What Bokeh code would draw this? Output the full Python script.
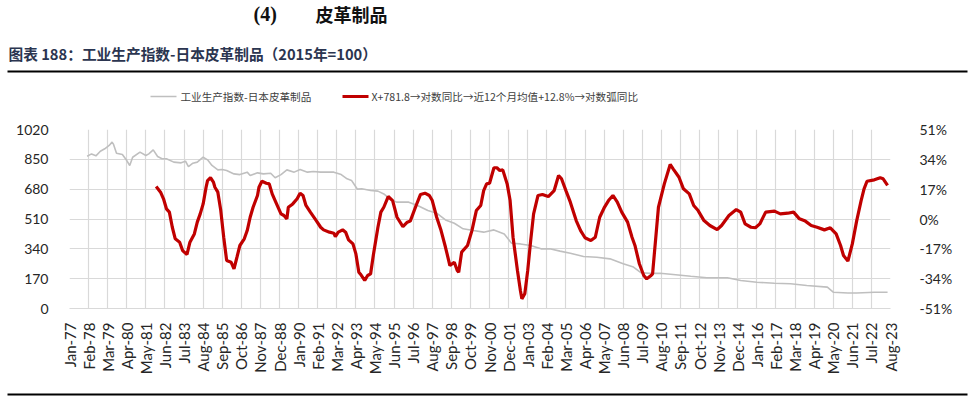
import math
from bokeh.plotting import figure
from bokeh.models import (Range1d, LinearAxis, FixedTicker, PrintfTickFormatter, ColumnDataSource)
from bokeh.core.properties import value
from bokeh.embed import file_html
from bokeh.resources import INLINE

# ---------------- data ----------------
x_labels = ["Jan-77", "Feb-78", "Mar-79", "Apr-80", "May-81", "Jun-82", "Jul-83", "Aug-84",
            "Sep-85", "Oct-86", "Nov-87", "Dec-88", "Jan-90", "Feb-91", "Mar-92", "Apr-93",
            "May-94", "Jun-95", "Jul-96", "Aug-97", "Sep-98", "Oct-99", "Nov-00", "Dec-01",
            "Jan-03", "Feb-04", "Mar-05", "Apr-06", "May-07", "Jun-08", "Jul-09", "Aug-10",
            "Sep-11", "Oct-12", "Nov-13", "Dec-14", "Jan-16", "Feb-17", "Mar-18", "Apr-19",
            "May-20", "Jun-21", "Jul-22", "Aug-23"]

left_ticks = [0, 170, 340, 510, 680, 850, 1020]
right_ticks = [-51, -34, -17, 0, 17, 34, 51]

# 工业生产指数-日本皮革制品 (left axis)
gray_dates = ["1978-01", "1978-04", "1978-07", "1978-10", "1979-01", "1979-04", "1979-06", "1979-07",
              "1979-09", "1980-01", "1980-04", "1980-06", "1980-08", "1981-01", "1981-05", "1981-07",
              "1981-10", "1982-01", "1982-04", "1982-07", "1982-12", "1983-05", "1983-08", "1983-10",
              "1984-01", "1984-04", "1984-08", "1984-11", "1985-02", "1985-06", "1985-09", "1985-12",
              "1986-05", "1986-09", "1987-02", "1987-04", "1987-09", "1988-01", "1988-06", "1988-09",
              "1989-01", "1989-05", "1989-10", "1990-02", "1990-07", "1990-11", "1991-04", "1991-08",
              "1992-01", "1992-06", "1992-10", "1993-01", "1993-03", "1993-05", "1993-08", "1994-02",
              "1994-07", "1994-11", "1995-04", "1995-08", "1996-04", "1996-10", "1997-05", "1997-11",
              "1998-05", "1998-11", "1999-05", "1999-12", "2000-07", "2001-02", "2001-09", "2002-02",
              "2002-08", "2003-03", "2003-10", "2004-04", "2004-11", "2005-06", "2006-03", "2006-12",
              "2007-09", "2008-06", "2009-01", "2009-06", "2010-01", "2010-07", "2011-04", "2012-04",
              "2013-03", "2014-05", "2015-02", "2016-01", "2017-01", "2017-12", "2018-11", "2020-01",
              "2020-05", "2021-03", "2021-09", "2022-09", "2023-06"]
gray_values = [868, 881, 870, 896, 910, 929, 948, 935,
               885, 877, 843, 815, 862, 891, 872, 881,
               904, 866, 853, 853, 834, 830, 839, 809,
               828, 834, 862, 847, 815, 790, 792, 786,
               767, 763, 777, 758, 773, 767, 771, 745,
               763, 790, 777, 792, 777, 781, 777, 777,
               777, 763, 739, 730, 705, 680, 682, 672,
               669, 653, 619, 606, 606, 587, 558, 543,
               505, 486, 454, 444, 435, 448, 425, 372,
               368, 359, 340, 340, 327, 315, 296, 292,
               283, 255, 236, 204, 200, 201, 194, 184,
               175, 175, 160, 150, 144, 141, 131, 122,
               93, 88, 88, 93, 93]

# X+781.8→对数同比→近12个月均值+12.8%→对数弧同比 (right axis, %)
red_dates = ["1981-12", "1982-03", "1982-05", "1982-07", "1982-09", "1982-11", "1983-01", "1983-04",
             "1983-06", "1983-09", "1983-11", "1984-02", "1984-04", "1984-06", "1984-08", "1984-10",
             "1984-11", "1985-01", "1985-03", "1985-04", "1985-06", "1985-08", "1985-10", "1985-12",
             "1986-03", "1986-05", "1986-07", "1986-09", "1986-12", "1987-02", "1987-04", "1987-06",
             "1987-09", "1987-10", "1987-12", "1988-03", "1988-05", "1988-07", "1988-09", "1989-01",
             "1989-03", "1989-05", "1989-06", "1989-09", "1989-12", "1990-02", "1990-04", "1990-06",
             "1990-09", "1991-01", "1991-04", "1991-06", "1991-10", "1992-01", "1992-02", "1992-04",
             "1992-07", "1992-09", "1992-11", "1993-02", "1993-04", "1993-06", "1993-07", "1993-10",
             "1993-12", "1994-02", "1994-04", "1994-07", "1994-09", "1994-11", "1995-02", "1995-05",
             "1995-08", "1995-12", "1996-03", "1996-05", "1996-09", "1996-12", "1997-03", "1997-06",
             "1997-08", "1997-11", "1998-02", "1998-05", "1998-08", "1998-11", "1999-01", "1999-02",
             "1999-04", "1999-08", "1999-11", "2000-02", "2000-05", "2000-07", "2000-09", "2000-11",
             "2001-02", "2001-04", "2001-06", "2001-08", "2001-11", "2002-01", "2002-03", "2002-06",
             "2002-08", "2002-09", "2002-11", "2003-01", "2003-03", "2003-05", "2003-08", "2003-11",
             "2004-03", "2004-07", "2004-10", "2004-12", "2005-03", "2005-06", "2005-10", "2006-01",
             "2006-04", "2006-08", "2006-11", "2007-02", "2007-05", "2007-08", "2007-11", "2008-02",
             "2008-05", "2008-09", "2008-12", "2009-02", "2009-05", "2009-08", "2009-10", "2010-01",
             "2010-02", "2010-04", "2010-06", "2010-10", "2011-02", "2011-04", "2011-08", "2011-11",
             "2012-03", "2012-06", "2012-09", "2013-01", "2013-05", "2013-10", "2014-01", "2014-06",
             "2014-11", "2015-02", "2015-05", "2015-09", "2015-12", "2016-03", "2016-07", "2017-01",
             "2017-05", "2017-10", "2018-02", "2018-06", "2018-10", "2019-02", "2019-06", "2019-11",
             "2020-03", "2020-07", "2020-10", "2020-12", "2021-03", "2021-06", "2021-09", "2021-12",
             "2022-02", "2022-04", "2022-09", "2023-01", "2023-03", "2023-06"]
red_values = [18.5, 15.3, 11.5, 5.8, 3.9, -4.7, -11.3, -13.2,
              -18.0, -20.2, -13.2, -8.5, -1.8, 2.9, 8.6, 18.1,
              21.9, 23.5, 21.0, 18.1, 15.3, 4.8, -10.4, -23.6,
              -24.6, -28.4, -21.8, -15.1, -11.3, -6.6, 1.0, 6.7,
              13.4, 18.1, 21.5, 20.4, 20.0, 14.3, 10.5, 2.9,
              2.0, 0.1, 6.7, 8.6, 11.5, 14.7, 13.4, 7.7,
              3.9, -0.9, -4.7, -6.2, -7.5, -8.1, -10.0, -7.5,
              -6.2, -7.5, -11.9, -14.2, -19.9, -30.3, -31.3, -35.0,
              -32.2, -31.3, -19.9, -4.7, 3.9, 6.7, 12.8, 10.5,
              1.0, -4.3, -1.8, -1.2, 7.7, 14.0, 14.7, 13.4,
              10.5, 1.0, -6.6, -16.1, -26.5, -24.6, -29.3, -30.3,
              -18.9, -15.1, -6.6, 4.8, 7.7, 16.2, 20.0, 20.4,
              29.2, 29.2, 27.6, 28.0, 20.0, 10.5, -10.4, -29.3,
              -40.7, -45.5, -42.6, -29.3, -12.3, 2.9, 13.4, 14.0,
              12.8, 16.2, 24.8, 22.9, 16.2, 9.6, -0.9, -6.6,
              -10.7, -12.3, -10.4, 1.0, 6.3, 10.5, 13.4, 9.6,
              3.9, -1.8, -10.4, -15.1, -25.5, -32.2, -34.1, -32.2,
              -31.3, -12.3, 6.7, 20.0, 31.1, 28.6, 23.8, 17.2,
              14.3, 7.7, 4.8, -0.9, -3.7, -6.0, -3.7, 2.0,
              5.4, 3.9, -2.8, -4.7, -5.0, -2.8, 3.9, 4.5,
              2.9, 3.3, 3.9, 0.1, -1.2, -3.7, -4.7, -6.2,
              -5.0, -8.5, -15.1, -20.8, -24.0, -14.2, -0.9, 10.5,
              17.2, 21.5, 22.3, 23.5, 22.9, 19.1]

gray_name = "工业生产指数-日本皮革制品"
red_name = "X+781.8→对数同比→近12个月均值+12.8%→对数弧同比"
title_num = "(4)"
title_text = "皮革制品"
subtitle = "图表 188：工业生产指数-日本皮革制品（2015年=100）"

# ---------------- helpers ----------------
MONTHS = {m: i for i, m in enumerate(["Jan", "Feb", "Mar", "Apr", "May", "Jun",
                                      "Jul", "Aug", "Sep", "Oct", "Nov", "Dec"])}


def date_index(s):
    y, m = s.split("-")
    return (int(y) - 1977) * 12 + int(m) - 1


def label_index(lbl):
    mon, yy = lbl.split("-")
    yy = int(yy)
    year = 2000 + yy if yy < 50 else 1900 + yy
    return (year - 1977) * 12 + MONTHS[mon]


x_ticks = [label_index(l) for l in x_labels]
gray_src = ColumnDataSource(dict(x=[date_index(d) for d in gray_dates], y=gray_values))
red_src = ColumnDataSource(dict(x=[date_index(d) for d in red_dates], y=red_values))

TICK_FONT = "Lato"
CJK = "Noto Sans CJK SC"
GRID = "#d9d9d9"
GRAY = "#bfbfbf"
RED = "#c00000"
W = 968


def pixel_figure(h):
    """A figure whose frame covers the whole canvas, with one data unit per pixel (y downwards)."""
    f = figure(width=W, height=h, output_backend="svg", toolbar_location=None,
               x_range=Range1d(0, W), y_range=Range1d(h, 0),
               x_axis_type=None, y_axis_type=None, min_border=0)
    f.min_border_left = f.min_border_right = f.min_border_top = f.min_border_bottom = 0
    f.grid.visible = False
    f.outline_line_color = None
    f.background_fill_color = "white"
    f.border_fill_color = "white"
    return f


# ---------------- header: titles, rule, legend ----------------
HH = 120
hdr = pixel_figure(HH)
hdr.text(x=[253], y=[13], text=[title_num], text_font=value("Liberation Serif"),
         text_font_style="bold", text_font_size="20px", text_baseline="middle",
         text_color="#111111")
hdr.text(x=[315], y=[13], text=[title_text], text_font=value(CJK),
         text_font_style="bold", text_font_size="18px", text_baseline="middle",
         text_color="#111111")
hdr.text(x=[8], y=[53], text=[subtitle], text_font=value(CJK),
         text_font_style="bold", text_font_size="14.7px", text_baseline="middle",
         text_color="#2b3550")
hdr.segment(x0=[7], x1=[W - 1], y0=[71], y1=[71], line_color="black", line_width=2.2)

# legend (samples + labels)
hdr.segment(x0=[150], x1=[176], y0=[96], y1=[96], line_color=GRAY, line_width=1.6)
hdr.text(x=[180], y=[96], text=[gray_name], text_font=value(CJK), text_font_size="10.6px",
         text_baseline="middle", text_color="#404040")
hdr.segment(x0=[342], x1=[368], y0=[96], y1=[96], line_color=RED, line_width=3.2)
hdr.text(x=[371], y=[96], text=[red_name], text_font=value(CJK), text_font_size="10.6px",
         text_baseline="middle", text_color="#404040")

# ---------------- main chart ----------------
FRAME_TOP = 129 - HH       # page y of frame top = 129
FRAME_H = 179
MH = 266
p = figure(width=W, height=MH, output_backend="svg", toolbar_location=None,
           x_range=Range1d(0, x_ticks[-1]), y_range=Range1d(0, 1020),
           min_border_left=69, min_border_right=W - 890, min_border_top=FRAME_TOP,
           min_border_bottom=MH - FRAME_TOP - FRAME_H)
p.outline_line_color = None
p.background_fill_color = "white"
p.border_fill_color = "white"
p.extra_y_ranges = {"pct": Range1d(-51, 51)}

p.xaxis.ticker = FixedTicker(ticks=x_ticks)
p.xaxis.major_label_overrides = {t: l for t, l in zip(x_ticks, x_labels)}
p.xaxis.major_label_orientation = math.pi / 2
p.xaxis.major_label_text_font = TICK_FONT
p.xaxis.major_label_text_font_size = "15px"
p.xaxis.major_label_text_color = "#262626"
p.xaxis.major_label_standoff = 8
p.xaxis.axis_line_color = GRID
p.xaxis.major_tick_line_color = None
p.xaxis.minor_tick_line_color = None

p.yaxis.ticker = FixedTicker(ticks=left_ticks)
p.yaxis.major_label_text_font = TICK_FONT
p.yaxis.major_label_text_font_size = "14px"
p.yaxis.major_label_text_color = "#262626"
p.yaxis.major_label_standoff = 15
p.yaxis.axis_line_color = None
p.yaxis.major_tick_line_color = None
p.yaxis.minor_tick_line_color = None

raxis = LinearAxis(y_range_name="pct", ticker=FixedTicker(ticks=right_ticks),
                   formatter=PrintfTickFormatter(format="%d%%"))
raxis.major_label_text_font = TICK_FONT
raxis.major_label_text_font_size = "14px"
raxis.major_label_text_color = "#262626"
raxis.major_label_standoff = 23
raxis.axis_line_color = None
raxis.major_tick_line_color = None
raxis.minor_tick_line_color = None
p.add_layout(raxis, "right")

p.xgrid.ticker = FixedTicker(ticks=x_ticks)
p.ygrid.ticker = FixedTicker(ticks=left_ticks)
p.xgrid.grid_line_color = GRID
p.ygrid.grid_line_color = GRID
p.xgrid.grid_line_width = 1.2
p.ygrid.grid_line_width = 1.2

p.line("x", "y", source=gray_src, line_color=GRAY, line_width=1.6)
p.line("x", "y", source=red_src, y_range_name="pct", line_color=RED, line_width=3.2)

# ---------------- footer rule ----------------
FH = 10
ftr = pixel_figure(FH)
ftr.segment(x0=[7], x1=[W - 1], y0=[6], y1=[6], line_color="black", line_width=2.2)

open("out.html", "w").write(file_html([hdr, p, ftr], INLINE))
